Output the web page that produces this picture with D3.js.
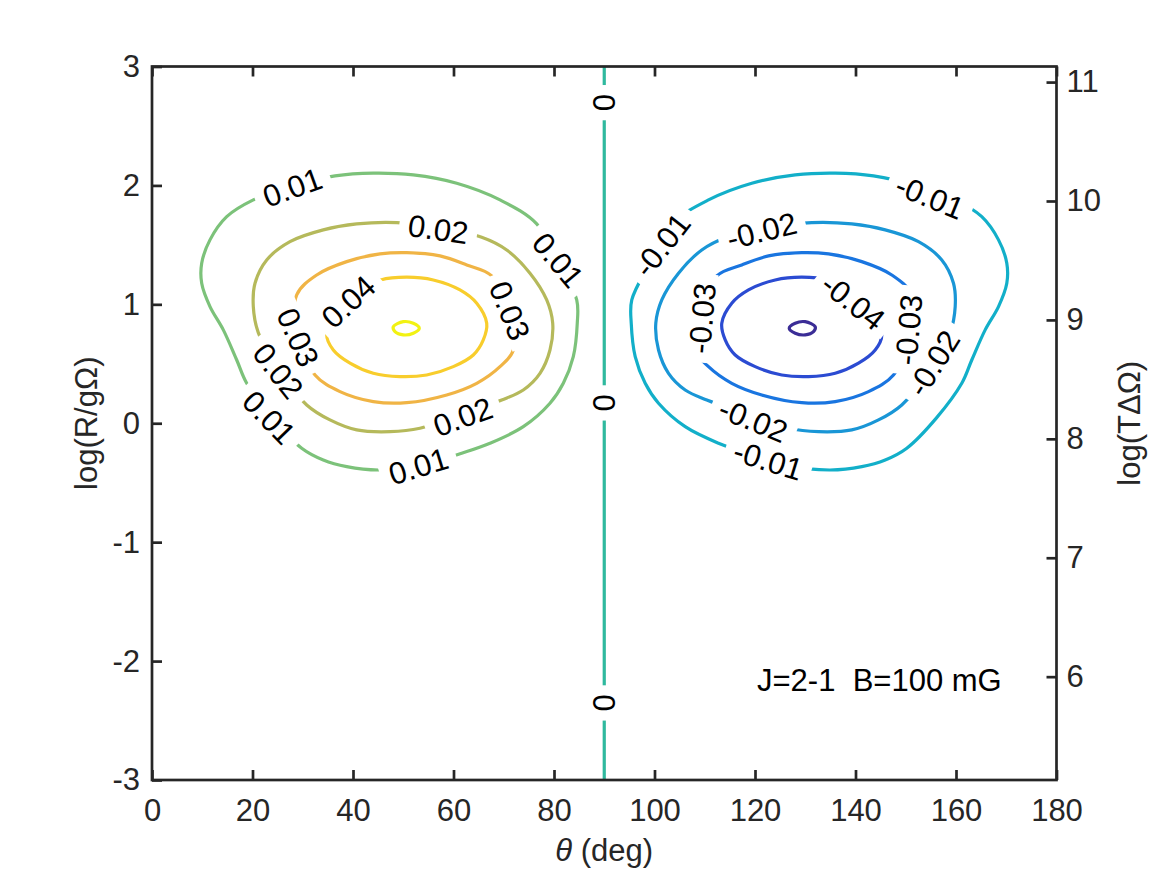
<!DOCTYPE html>
<html>
<head>
<meta charset="utf-8">
<script src="https://cdn.jsdelivr.net/npm/d3@7"></script>
<style>
body { margin: 0; background: #fff; }
svg { font-family: Helvetica, "Liberation Sans", Arial, sans-serif; }
</style>
</head>
<body>
<svg width="1167" height="875"></svg>
<script>
// 軸
var thetaTicks = [0, 20, 40, 60, 80, 100, 120, 140, 160, 180];
var logRTicks = [-3, -2, -1, 0, 1, 2, 3];
var logTTicks = [6, 7, 8, 9, 10, 11];
var thetaDomain = [0, 180];
var logRDomain = [-3, 3];
var logTDomain = [5.131, 11.131];

// 等高線レベルと色
var levels = [-0.05, -0.04, -0.03, -0.02, -0.01, 0, 0.01, 0.02, 0.03, 0.04, 0.05];
var levelColors = ["#3b2d96", "#2b4bd2", "#1975e0", "#1996d6", "#12afc9", "#2fb99e",
                   "#7cc27a", "#b5b95b", "#f0b445", "#f8cd2c", "#f2f212"];

// 等高線 [theta, logR]
var c_p05 = [[48.02,0.812],[50.01,0.854],[52.0,0.841],[53.19,0.799],[52.0,0.757],[50.01,0.743],[48.36,0.77]];
var c_p04 = [[45.51,1.205],[50.69,1.228],[55.98,1.205],[61.29,1.121],[64.62,1.009],[66.61,0.841],[65.93,0.701],
             [63.94,0.574],[59.96,0.476],[54.67,0.406],[49.35,0.392],[44.04,0.42],[39.4,0.505],[36.08,0.616],
             [34.77,0.743],[37.01,0.936],[40.6,1.104]];
var c_p03 = [[28.8,1.079],[32.78,1.247],[38.75,1.359],[45.37,1.424],[50.69,1.435],[57.31,1.407],[62.63,1.331],
             [67.6,1.239],[70.84,0.936],[71.9,0.616],[69.25,0.476],[64.62,0.336],[58.65,0.238],[50.69,0.173],
             [44.04,0.182],[37.41,0.266],[32.44,0.406],[28.86,0.743]];
var c_p02 = [[21.15,0.762],[20.16,0.981],[20.5,1.177],[22.83,1.373],[27.46,1.527],[34.09,1.626],[40.74,1.676],
             [48.7,1.687],[57.11,1.642],[65.61,1.564],[70.59,1.457],[75.22,1.262],[78.55,1.037],[79.74,0.841],
             [79.2,0.616],[77.21,0.42],[73.89,0.28],[69.59,0.196],[61.69,0.078],[53.33,-0.042],[47.36,-0.071],
             [40.74,-0.056],[35.42,0.028],[30.79,0.154],[25.47,0.431]];
var c_p01 = [[20.16,1.878],[27.8,1.996],[36.42,2.08],[44.04,2.103],[52.0,2.088],[60.64,2.018],[69.25,1.878],
             [76.56,1.676],[80.79,1.357],[84.52,1.037],[84.63,0.841],[83.84,0.56],[81.85,0.336],[79.2,0.168],
             [73.89,-0.029],[67.26,-0.168],[61.63,-0.252],[53.33,-0.359],[45.03,-0.393],[38.75,-0.365],
             [34.09,-0.309],[29.79,-0.21],[23.88,0.045],[18.85,0.336],[16.86,0.532],[14.19,0.785],[11.54,0.981],
             [9.89,1.177],[9.89,1.346],[11.54,1.542],[14.87,1.737]];
var c_zero = [[90,-3],[90,3]];
var c_m01 = [[159.84,1.878],[152.2,1.996],[143.58,2.08],[135.96,2.103],[128.0,2.088],[119.36,2.018],[110.75,1.878],
             [103.44,1.676],[99.21,1.357],[95.48,1.037],[95.37,0.841],[96.16,0.56],[98.15,0.336],[100.8,0.168],
             [106.11,-0.029],[112.74,-0.168],[118.37,-0.252],[126.67,-0.359],[134.97,-0.393],[141.25,-0.365],
             [145.91,-0.309],[150.21,-0.21],[156.12,0.045],[161.15,0.336],[163.14,0.532],[165.81,0.785],
             [168.46,0.981],[170.11,1.177],[170.11,1.346],[168.46,1.542],[165.13,1.737]];
var c_m02 = [[158.85,0.762],[159.84,0.981],[159.5,1.177],[157.17,1.373],[152.54,1.527],[145.91,1.626],[139.26,1.676],
             [131.3,1.687],[122.89,1.642],[114.39,1.564],[109.41,1.457],[104.78,1.262],[101.45,1.037],[100.26,0.841],
             [100.8,0.616],[102.79,0.42],[106.11,0.28],[110.41,0.196],[118.31,0.078],[126.67,-0.042],[132.64,-0.071],
             [139.26,-0.056],[144.58,0.028],[149.21,0.154],[154.53,0.431]];
var c_m03 = [[151.2,1.079],[147.22,1.247],[141.25,1.359],[134.63,1.424],[129.31,1.435],[122.69,1.407],[117.37,1.331],
             [112.4,1.239],[109.16,0.936],[108.1,0.616],[110.75,0.476],[115.38,0.336],[121.35,0.238],[129.31,0.173],
             [135.96,0.182],[142.59,0.266],[147.56,0.406],[151.14,0.743]];
var c_m04 = [[134.49,1.205],[129.31,1.228],[124.02,1.205],[118.71,1.121],[115.38,1.009],[113.39,0.841],[114.07,0.701],
             [116.06,0.574],[120.04,0.476],[125.33,0.406],[130.65,0.392],[135.96,0.42],[140.6,0.505],[143.92,0.616],
             [145.23,0.743],[142.99,0.936],[139.4,1.104]];
var c_m05 = [[131.98,0.812],[129.99,0.854],[128.0,0.841],[126.81,0.799],[128.0,0.757],[129.99,0.743],[131.64,0.77]];

// ラベル [level, theta, logR, 角度]
var contourLabels = [
    [0.01, 27.92, 1.985, -20], [0.02, 56.97, 1.634, 8], [0.01, 80.85, 1.373, 50],
    [0.04, 39.06, 1.023, -43], [0.03, 71.24, 0.947, 68], [0.03, 29.11, 0.723, 66],
    [0.02, 25.13, 0.442, 52], [0.01, 23.34, 0.05, 46], [0.02, 61.83, 0.056, -20],
    [0.01, 52.99, -0.359, -17],
    [0, 90, 2.696, 90], [0, 90, 0.171, 90], [0, 90, -2.352, 90],
    [-0.01, 154.8, 1.906, 22], [-0.01, 101.43, 1.5, -52], [-0.02, 121.33, 1.62, -14],
    [-0.04, 139.56, 1.023, 38], [-0.03, 109.39, 0.883, -85], [-0.03, 150.5, 0.785, -85],
    [-0.02, 155.48, 0.505, -58], [-0.02, 119.66, 0.028, 22], [-0.01, 122.64, -0.309, 17]
];

var note = "J=2-1  B=100 mG";
var notePos = [120.4, -2.16];

var FS = 31;
var svg = d3.select("svg");
var W = 1167, H = 875;
var x = d3.scaleLinear().domain(thetaDomain).range([152, 1056.5]);
var y = d3.scaleLinear().domain(logRDomain).range([780, 66.5]);
var y2 = d3.scaleLinear().domain(logTDomain).range([780, 66.5]);

var contours = [
    [0.05, c_p05], [0.04, c_p04], [0.03, c_p03], [0.02, c_p02], [0.01, c_p01],
    [0, c_zero],
    [-0.01, c_m01], [-0.02, c_m02], [-0.03, c_m03], [-0.04, c_m04], [-0.05, c_m05]
];
function colorOf(lv){
    return levelColors[levels.indexOf(lv)];
}
// MATLAB風の数値表記(ハイフンのマイナス)
function plain(d){ return String(d); }

// ラベルの隙間用マスク
var defs = svg.append("defs");
var mask = defs.append("mask").attr("id", "gap")
    .attr("maskUnits", "userSpaceOnUse")
    .attr("x", 0).attr("y", 0).attr("width", W).attr("height", H);
mask.append("rect").attr("width", W).attr("height", H).attr("fill", "#fff");

// 等高線
var loop = d3.line().x(function(d){ return x(d[0]); }).y(function(d){ return y(d[1]); })
    .curve(d3.curveCatmullRomClosed.alpha(0.5));
var straight = d3.line().x(function(d){ return x(d[0]); }).y(function(d){ return y(d[1]); });

svg.append("g").attr("mask", "url(#gap)")
    .selectAll("path")
    .data(contours)
    .enter()
    .append("path")
    .attr("d", function(d){ return d[1].length > 2 ? loop(d[1]) : straight(d[1]); })
    .attr("fill", "none")
    .attr("stroke", function(d){ return colorOf(d[0]); })
    .attr("stroke-width", 3.2)
    .attr("stroke-linejoin", "round");

// 等高線ラベル
var lab = svg.append("g").selectAll("text")
    .data(contourLabels)
    .enter()
    .append("text")
    .attr("transform", function(d){
        return "translate(" + x(d[1]) + "," + y(d[2]) + ") rotate(" + d[3] + ")";
    })
    .attr("text-anchor", "middle")
    .attr("dy", "0.36em")
    .attr("font-size", FS)
    .attr("fill", "#000")
    .text(function(d){ return plain(d[0]); });

lab.each(function(d){
    var len = this.getComputedTextLength();
    mask.append("rect")
        .attr("transform", "translate(" + x(d[1]) + "," + y(d[2]) + ") rotate(" + d[3] + ")")
        .attr("x", -len / 2 - 9)
        .attr("y", -13)
        .attr("width", len + 18)
        .attr("height", 26)
        .attr("fill", "#000");
});

// 注記
svg.append("text")
    .attr("x", x(notePos[0]))
    .attr("y", y(notePos[1]))
    .attr("dy", "0.36em")
    .attr("font-size", FS)
    .attr("fill", "#000")
    .style("white-space", "pre")
    .text(note);

// 軸
function styleAxis(g){
    g.select(".domain").remove();
    g.selectAll("line").attr("stroke", "#262626").attr("stroke-width", 2.7);
    g.selectAll("text").attr("fill", "#262626").attr("font-size", FS);
    g.attr("font-family", null).attr("font-size", null);
}
svg.append("g").attr("transform", "translate(0,780)")
    .call(d3.axisBottom(x).tickValues(thetaTicks).tickSize(-10).tickPadding(19).tickFormat(plain))
    .call(styleAxis);
svg.append("g").attr("transform", "translate(0,66.5)")
    .call(d3.axisTop(x).tickValues(thetaTicks).tickSize(-10).tickFormat(""))
    .call(styleAxis);
svg.append("g").attr("transform", "translate(152,0)")
    .call(d3.axisLeft(y).tickValues(logRTicks).tickSize(-10).tickPadding(12).tickFormat(plain))
    .call(styleAxis);
svg.append("g").attr("transform", "translate(1056.5,0)")
    .call(d3.axisRight(y2).tickValues(logTTicks).tickSize(-10).tickPadding(10).tickFormat(plain))
    .call(styleAxis);

// 枠
svg.append("rect")
    .attr("x", 152).attr("y", 66.5)
    .attr("width", 1056.5 - 152).attr("height", 780 - 66.5)
    .attr("fill", "none")
    .attr("stroke", "#262626")
    .attr("stroke-width", 2.7);

// 軸ラベル
var xl = svg.append("text")
    .attr("x", x(90)).attr("y", 861)
    .attr("text-anchor", "middle")
    .attr("font-size", FS)
    .attr("fill", "#262626");
xl.append("tspan").attr("font-style", "italic").text("θ");
xl.append("tspan").text(" (deg)");

svg.append("text")
    .attr("transform", "translate(88," + y(0) + ") rotate(-90)")
    .attr("text-anchor", "middle")
    .attr("dy", "0.3em")
    .attr("font-size", FS)
    .attr("fill", "#262626")
    .text("log(R/gΩ)");

svg.append("text")
    .attr("transform", "translate(1131," + y(0) + ") rotate(-90)")
    .attr("text-anchor", "middle")
    .attr("dy", "0.3em")
    .attr("font-size", FS)
    .attr("fill", "#262626")
    .text("log(TΔΩ)");
</script>
</body>
</html>
